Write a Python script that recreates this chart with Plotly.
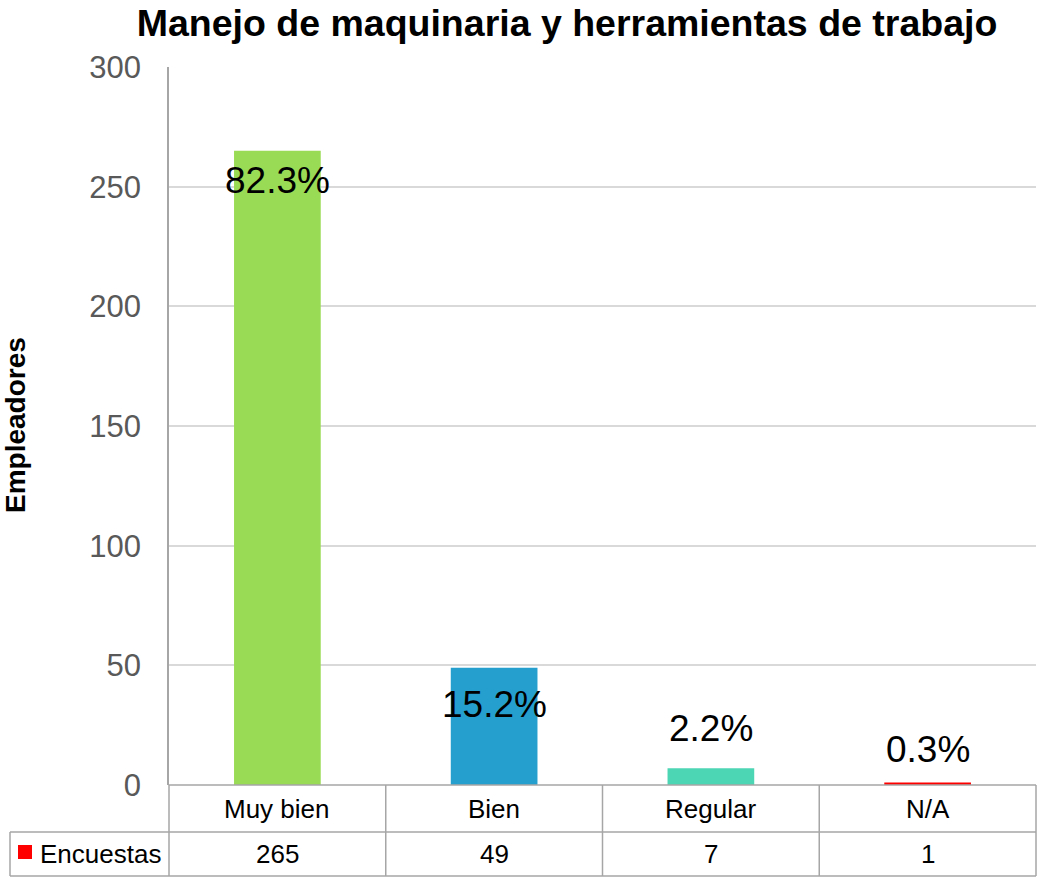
import plotly.graph_objects as go

categories = ["Muy bien", "Bien", "Regular", "N/A"]
values = [265, 49, 7, 1]
series_name = "Encuestas"
title_text = "Manejo de maquinaria y herramientas de trabajo"
y_title = "Empleadores"
y_ticks = [0, 50, 100, 150, 200, 250, 300]

bar_colors = ["#9ADB55", "#259FCE", "#4DD6B4", "#FF0000"]
label_shifts = [-30, -37, 40, 33]  # pixel offsets of % labels relative to bar top

W, H = 1038, 877
L, R, T, B = 169, 2, 67, 92
pw, ph = W - L - R, H - T - B

total = sum(values)
pct = [f"{v / total * 100:.1f}%" for v in values]

FONT = "Liberation Sans, Arial, sans-serif"
GRID = "#D9D9D9"
LINE = "#A6A6A6"

fig = go.Figure()
fig.add_trace(go.Bar(
    x=categories, y=values, marker=dict(color=bar_colors, line=dict(width=0)),
    width=0.4, name=series_name, showlegend=False, hoverinfo="x+y",
))

def py(p):  # pixel y -> paper
    return (H - B - p) / ph

def px(p):
    return (p - L) / pw

shapes = []
annotations = []

# percent labels
for i, (v, t) in enumerate(zip(values, pct)):
    annotations.append(dict(x=categories[i], y=v, xref="x", yref="y", text=t,
                            xanchor="center", yanchor="middle",
                            showarrow=False, yshift=label_shifts[i],
                            font=dict(family=FONT, size=37, color="#000000")))

# data table
row1 = py(H - B)      # axis line
row2 = py(832)
row3 = py(876)
n = len(categories)
line = dict(color=LINE, width=1.5)
shapes.append(dict(type="line", xref="paper", yref="paper", x0=0, x1=1, y0=row1, y1=row1, line=line))
shapes.append(dict(type="line", xref="paper", yref="paper", x0=px(10), x1=1, y0=row2, y1=row2, line=line))
shapes.append(dict(type="line", xref="paper", yref="paper", x0=px(10), x1=1, y0=row3, y1=row3, line=line))
shapes.append(dict(type="line", xref="paper", yref="paper", x0=px(10), x1=px(10), y0=row2, y1=row3, line=line))
for k in range(n + 1):
    xk = k / n
    shapes.append(dict(type="line", xref="paper", yref="paper", x0=xk, x1=xk, y0=row1, y1=row3, line=line))

for i, c in enumerate(categories):
    xc = (i + 0.5) / n
    annotations.append(dict(x=xc, y=(row1 + row2) / 2, xref="paper", yref="paper", text=c,
                            xanchor="center", yanchor="middle",
                            showarrow=False, font=dict(family=FONT, size=26, color="#000000")))
    annotations.append(dict(x=xc, y=(row2 + row3) / 2, xref="paper", yref="paper", text=str(values[i]),
                            xanchor="center", yanchor="middle",
                            showarrow=False, font=dict(family=FONT, size=26, color="#000000")))

# legend key in table
shapes.append(dict(type="rect", xref="paper", yref="paper", x0=px(18), x1=px(32), y0=py(859), y1=py(845),
                   fillcolor=bar_colors[3], line=dict(width=0)))
annotations.append(dict(x=px(38), y=(row2 + row3) / 2, xref="paper", yref="paper", text=series_name,
                        xanchor="left", yanchor="middle",
                        showarrow=False, font=dict(family=FONT, size=26, color="#000000")))

# y-axis title
annotations.append(dict(x=px(15), y=py(425), xref="paper", yref="paper", text=f"<b>{y_title}</b>",
                        xanchor="center", yanchor="middle",
                        textangle=-90, showarrow=False, font=dict(family=FONT, size=28, color="#000000")))

fig.update_layout(
    width=W, height=H,
    margin=dict(l=L, r=R, t=T, b=B, pad=0),
    paper_bgcolor="white", plot_bgcolor="white",
    title=dict(text=f"<b>{title_text}</b>", x=567 / W, xanchor="center", y=1 - 23 / H, yanchor="middle",
               font=dict(family=FONT, size=37.5, color="#000000")),
    bargap=0.6,
    xaxis=dict(showticklabels=False, showgrid=False, zeroline=False, showline=False, ticks="",
               range=[-0.5, n - 0.5], fixedrange=True),
    yaxis=dict(range=[0, 300], tickvals=y_ticks, showgrid=True, gridcolor=GRID, gridwidth=1.5,
               zeroline=False, showline=True, linecolor=LINE, linewidth=1.5, ticks="",
               tickfont=dict(family=FONT, size=31, color="#595959"), ticklabelstandoff=20),
    shapes=shapes, annotations=annotations,
)

fig.write_html("out.html", config={"displayModeBar": False},
               post_script="document.body.style.margin='0';")
